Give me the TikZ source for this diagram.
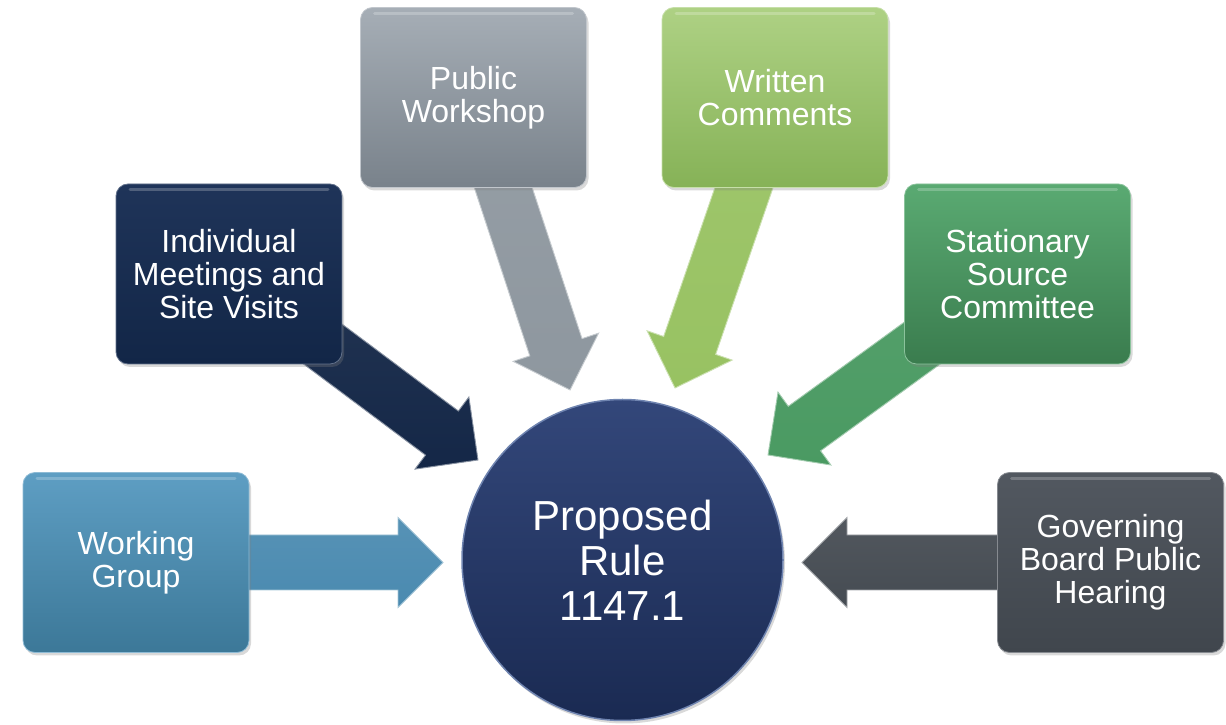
\documentclass[tikz,border=0pt]{standalone}
\usepackage{fontspec}
\setmainfont{Liberation Sans}
\usetikzlibrary{calc,shadows}
\pgfdeclarelayer{bg}
\pgfsetlayers{bg,main}
\definecolor{wgA}{HTML}{5E9EC3}\definecolor{wgB}{HTML}{3C7898}
\definecolor{imA}{HTML}{1F3459}\definecolor{imB}{HTML}{122647}
\definecolor{pwA}{HTML}{A6AEB6}\definecolor{pwB}{HTML}{79828B}
\definecolor{wcA}{HTML}{AED184}\definecolor{wcB}{HTML}{86B257}
\definecolor{ssA}{HTML}{5AAA72}\definecolor{ssB}{HTML}{3A7C4E}
\definecolor{gbA}{HTML}{525860}\definecolor{gbB}{HTML}{40464D}
\definecolor{ciA}{HTML}{33477A}\definecolor{ciB}{HTML}{1A2A52}
\definecolor{ciRim}{HTML}{6F84B0}
\definecolor{wgArr}{HTML}{4A8AB0}
\definecolor{imArr}{HTML}{142747}
\definecolor{pwArr}{HTML}{8E979F}
\definecolor{wcArr}{HTML}{98C262}
\definecolor{ssArr}{HTML}{4A9A62}
\definecolor{gbArr}{HTML}{454B52}
\newcommand{\myblockarrow}[3]{%
  \coordinate (#1-h) at ($(#2)!45pt!(#1)$);
  \shadedraw[top color=#3!93!white, bottom color=#3, draw=#3!50!white,
             line width=0.9pt, line join=miter]
    ($(#1)!27.5pt!90:(#2)$) -- ($(#1-h)!27.5pt!90:(#2)$) --
    ($(#1-h)!45pt!90:(#2)$) -- (#2) -- ($(#1-h)!45pt!-90:(#2)$) --
    ($(#1-h)!27.5pt!-90:(#2)$) -- ($(#1)!27.5pt!-90:(#2)$) -- cycle;
}
\tikzset{
  srcbox/.style n args={2}{rectangle, rounded corners=12pt, minimum width=226pt,
    minimum height=180pt, inner sep=0pt, align=center, text=white,
    font=\fontsize{32}{33}\selectfont,
    top color=#1, bottom color=#2, draw=#1!70!white, line width=0.8pt,
    drop shadow={opacity=0.3, shadow xshift=2pt, shadow yshift=-3pt},
    path picture={\draw[white, opacity=0.22, line width=3pt, line cap=round]
      ([xshift=14pt,yshift=-6pt]path picture bounding box.north west) --
      ([xshift=-14pt,yshift=-6pt]path picture bounding box.north east);}},
}
\begin{document}
\begin{tikzpicture}[x=1pt,y=1pt]
\useasboundingbox (0,0) rectangle (1226,725);
% source boxes
\node[srcbox={wgA}{wgB}] (wg) at (136,162.5) {Working\\Group};
\node[srcbox={imA}{imB}] (im) at (229,451) {Individual\\Meetings and\\Site Visits};
\node[srcbox={pwA}{pwB}] (pw) at (473.5,627.5) {Public\\Workshop};
\node[srcbox={wcA}{wcB}] (wc) at (775,627.5) {Written\\Comments};
\node[srcbox={ssA}{ssB}] (ss) at (1017.5,451) {Stationary\\Source\\Committee};
\node[srcbox={gbA}{gbB}] (gb) at (1110.5,162.5) {Governing\\Board Public\\Hearing};
% centre
\node[circle, minimum size=321pt, inner sep=0pt, align=center, text=white,
      font=\fontsize{42}{45}\selectfont, top color=ciA, bottom color=ciB,
      draw=ciRim, line width=1.5pt,
      drop shadow={opacity=0.3, shadow xshift=2pt, shadow yshift=-3pt}]
      (pr) at (622.5,165) {Proposed\\Rule\\1147.1};
% arrow tips
\coordinate (wgt) at (443,162.5);
\coordinate (imt) at (478,265);
\coordinate (pwt) at (570,335);
\coordinate (wct) at (675,337);
\coordinate (sst) at (768,270);
\coordinate (gbt) at (802,162.5);
\begin{pgfonlayer}{bg}
\myblockarrow{wg}{wgt}{wgArr}
\myblockarrow{im}{imt}{imArr}
\myblockarrow{pw}{pwt}{pwArr}
\myblockarrow{wc}{wct}{wcArr}
\myblockarrow{ss}{sst}{ssArr}
\myblockarrow{gb}{gbt}{gbArr}
\end{pgfonlayer}
\end{tikzpicture}
\end{document}
